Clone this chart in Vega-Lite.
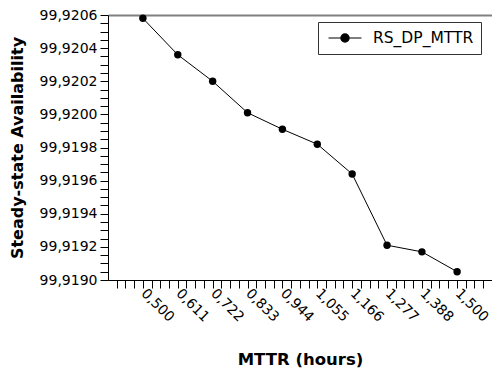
{
  "$schema": "https://vega.github.io/schema/vega-lite/v6.json",
  "autosize": "none",
  "width": 384,
  "height": 265,
  "padding": {"left": 108, "top": 15, "right": 0, "bottom": 93},
  "background": "white",
  "config": {
    "font": "DejaVu Sans",
    "view": {"stroke": null},
    "axis": {"labelFont": "DejaVu Sans", "titleFont": "DejaVu Sans", "labelColor": "black", "titleColor": "black"}
  },
  "data": {"values": [
    {"mttr": 0.5, "avail": 99.92058, "series": "RS_DP_MTTR"},
    {"mttr": 0.611, "avail": 99.92036, "series": "RS_DP_MTTR"},
    {"mttr": 0.722, "avail": 99.9202, "series": "RS_DP_MTTR"},
    {"mttr": 0.833, "avail": 99.92001, "series": "RS_DP_MTTR"},
    {"mttr": 0.944, "avail": 99.91991, "series": "RS_DP_MTTR"},
    {"mttr": 1.055, "avail": 99.91982, "series": "RS_DP_MTTR"},
    {"mttr": 1.166, "avail": 99.91964, "series": "RS_DP_MTTR"},
    {"mttr": 1.277, "avail": 99.91921, "series": "RS_DP_MTTR"},
    {"mttr": 1.388, "avail": 99.91917, "series": "RS_DP_MTTR"},
    {"mttr": 1.5, "avail": 99.91905, "series": "RS_DP_MTTR"}
  ]},
  "resolve": {"axis": {"x": "independent"}},
  "layer": [
    {
      "mark": {"type": "line", "color": "black", "strokeWidth": 1},
      "encoding": {
        "x": {
          "field": "mttr", "type": "quantitative",
          "scale": {"domain": [0.389, 1.611], "nice": false, "zero": false},
          "axis": {
            "orient": "bottom",
            "title": "MTTR (hours)",
            "titleFontSize": 16.5, "titleFontWeight": "bold", "titlePadding": 27,
            "tickCount": 200,
            "values": [0.41675,0.4445,0.47225,0.5,0.52775,0.5555,0.58325,0.611,0.63875,0.6665,0.69425,0.722,0.74975,0.7775,0.80525,0.833,0.86075,0.8885,0.91625,0.944,0.97175,0.9995,1.02725,1.055,1.08275,1.1105,1.13825,1.166,1.19375,1.2215,1.24925,1.277,1.30475,1.3325,1.36025,1.388,1.41575,1.4435,1.47125,1.5,1.52675,1.5545,1.58225],
            "labelExpr": "indexof([0.5,0.611,0.722,0.833,0.944,1.055,1.166,1.277,1.388,1.5], datum.value) >= 0 ? replace(format(datum.value, '.3f'), '.', ',') : ''",
            "labelAngle": 45, "labelAlign": "left", "labelBaseline": "middle",
            "labelFontSize": 14, "labelPadding": 3, "labelOverlap": false, "labelFlush": false,
            "tickSize": 8,
            "encode": {"ticks": {"update": {"y2": {"signal": "indexof([0.5,0.611,0.722,0.833,0.944,1.055,1.166,1.277,1.388,1.5], datum.value) >= 0 ? 8 : 5"}}}},
            "tickColor": "black", "tickWidth": 1,
            "domainColor": "black", "domainWidth": 1,
            "grid": false
          }
        },
        "y": {
          "field": "avail", "type": "quantitative",
          "scale": {"domain": [99.919, 99.9206], "nice": false, "zero": false},
          "axis": {
            "title": "Steady-state Availability",
            "titleFontSize": 16, "titleFontWeight": "bold", "titlePadding": 14,
            "tickCount": 200,
            "values": [99.919,99.91905,99.9191,99.91915,99.9192,99.91925,99.9193,99.91935,99.9194,99.91945,99.9195,99.91955,99.9196,99.91965,99.9197,99.91975,99.9198,99.91985,99.9199,99.91995,99.92,99.92005,99.9201,99.92015,99.9202,99.92025,99.9203,99.92035,99.9204,99.92045,99.9205,99.92055,99.9206],
            "labelExpr": "indexof([99.919,99.9192,99.9194,99.9196,99.9198,99.92,99.9202,99.9204,99.9206], datum.value) >= 0 ? replace(format(datum.value, '.4f'), '.', ',') : ''",
            "labelFontSize": 14, "labelPadding": 3, "labelOverlap": false, "labelFlush": false,
            "tickSize": 8,
            "encode": {"ticks": {"update": {"x2": {"signal": "indexof([99.919,99.9192,99.9194,99.9196,99.9198,99.92,99.9202,99.9204,99.9206], datum.value) >= 0 ? -8 : -5"}}}},
            "tickColor": "black", "tickWidth": 1,
            "domainColor": "black", "domainWidth": 1,
            "grid": false
          }
        },
        "color": {
          "field": "series", "type": "nominal",
          "scale": {"range": ["black"]},
          "legend": {
            "title": null,
            "orient": "none", "legendX": 210, "legendY": 7,
            "strokeColor": "#333", "fillColor": "white", "padding": 7,
            "symbolType": "M-2,0L2,0M0.5,0A0.5,0.5,0,1,1,-0.5,0A0.5,0.5,0,1,1,0.5,0Z",
            "symbolSize": 272, "symbolStrokeWidth": 1.2, "symbolOffset": 11,
            "symbolFillColor": "black", "symbolStrokeColor": "black",
            "labelFontSize": 15.5, "labelColor": "black", "labelFont": "DejaVu Sans", "labelOffset": 19
          }
        }
      }
    },
    {
      "mark": {"type": "point", "filled": true, "size": 55, "opacity": 1},
      "encoding": {
        "x": {
          "field": "mttr", "type": "quantitative",
          "axis": {"orient": "top", "title": null, "labels": false, "ticks": false, "grid": false, "domainColor": "#808080", "domainWidth": 2}
        },
        "y": {"field": "avail", "type": "quantitative"},
        "color": {"field": "series", "type": "nominal"}
      }
    }
  ]
}
